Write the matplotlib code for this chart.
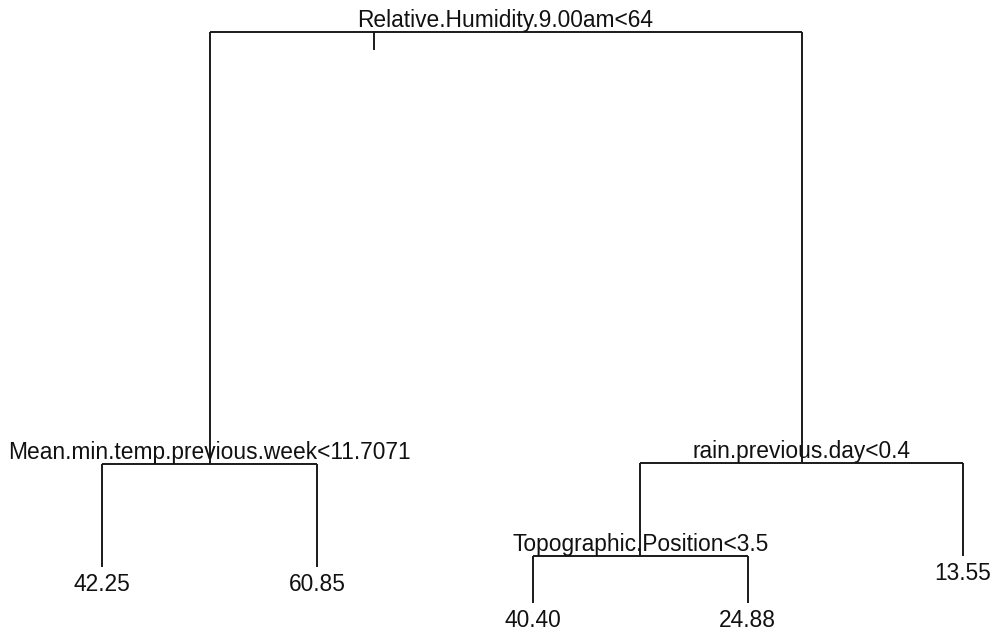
import matplotlib
matplotlib.use("Agg")
import matplotlib.pyplot as plt
from matplotlib.transforms import offset_copy

# ---- tree data (plot.tree style: x = leaf order, y = node height) ----
split_labels = {1: "Relative.Humidity.9.00am<64",
                2: "Mean.min.temp.previous.week<11.7071",
                3: "rain.previous.day<0.4",
                6: "Topographic.Position<3.5"}
leaf_order = [4, 5, 12, 13, 7]
leaf_values = ["42.25", "60.85", "40.40", "24.88", "13.55"]
node_height = {1: 100.0, 2: 25.3, 3: 25.4, 6: 9.3,
               4: 7.4, 5: 7.4, 12: 1.2, 13: 1.2, 7: 9.3}
children = {1: (2, 3), 2: (4, 5), 3: (6, 7), 6: (12, 13)}

# x positions: leaves in order, internal nodes = mean of children
xpos = {n: i + 1 for i, n in enumerate(leaf_order)}
def getx(n):
    if n in xpos:
        return xpos[n]
    l, r = children[n]
    xpos[n] = (getx(l) + getx(r)) / 2
    return xpos[n]
getx(1)

plt.rcParams['font.family'] = ['Liberation Sans', 'DejaVu Sans']
fig = plt.figure(figsize=(9.96, 6.35), dpi=100)
ax = fig.add_axes([0, 0, 1, 1])
ax.set_xlim(0.5261, 5.1533)
ax.set_ylim(-4.325, 105.54)
ax.axis('off')

lc = '#1a1a1a'
lw = 1.4
for n, (l, r) in children.items():
    y = node_height[n]
    ax.plot([getx(l), getx(r)], [y, y], color=lc, lw=lw, solid_capstyle='butt')
    for c in (l, r):
        ax.plot([getx(c), getx(c)], [y, node_height[c]], color=lc, lw=lw,
                solid_capstyle='butt')

# small tick below root (as in the reference)
root_tick_x = 2.2636
ax.plot([root_tick_x, root_tick_x], [node_height[1], 97.1], color=lc, lw=lw)

fs = 16.4
up = offset_copy(ax.transData, fig=fig, x=0, y=5, units='dots')
down = offset_copy(ax.transData, fig=fig, x=0, y=-6, units='dots')
for n, lab in split_labels.items():
    ax.text(getx(n), node_height[n], lab, transform=up, ha='center',
            va='baseline', fontsize=fs, color='#111111')
for n, v in zip(leaf_order, leaf_values):
    ax.text(getx(n), node_height[n], v, transform=down, ha='center',
            va='top', fontsize=fs, color='#111111')

fig.savefig("out.png", dpi=100, facecolor='white')
